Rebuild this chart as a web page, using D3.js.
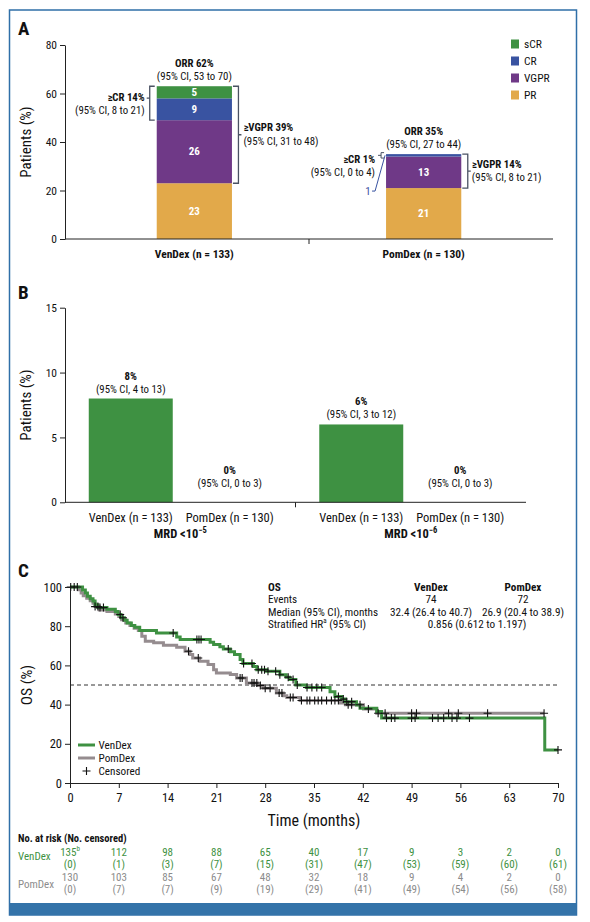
<!DOCTYPE html>
<html><head><meta charset="utf-8">
<script src="https://cdn.jsdelivr.net/npm/d3@7"></script>
<style>body{margin:0;background:#fff}</style>
</head><body>
<svg id="c" width="590" height="922"></svg>
<script>
// ---------- DATA ----------
const respCategories = ["VenDex (n = 133)", "PomDex (n = 130)"];
const respKeys = ["PR", "VGPR", "CR", "sCR"];
const respPR = [23, 21];
const respVGPR = [26, 13];
const respCR = [9, 1];
const respSCR = [5, 0];
const respTicks = [0, 20, 40, 60, 80];
const orrLabels = ["ORR 62%", "ORR 35%"];
const orrCI = ["(95% CI, 53 to 70)", "(95% CI, 27 to 44)"];
const crLabels = ["≥CR 14%", "≥CR 1%"];
const crCI = ["(95% CI, 8 to 21)", "(95% CI, 0 to 4)"];
const vgprLabels = ["≥VGPR 39%", "≥VGPR 14%"];
const vgprCI = ["(95% CI, 31 to 48)", "(95% CI, 8 to 21)"];

const mrdGroupExp = ["−5", "−6"];
const mrdArms = ["VenDex (n = 133)", "PomDex (n = 130)"];
const mrdVenDex = [8, 6];
const mrdPomDex = [0, 0];
const mrdVenDexCI = ["(95% CI, 4 to 13)", "(95% CI, 3 to 12)"];
const mrdPomDexCI = ["(95% CI, 0 to 3)", "(95% CI, 0 to 3)"];
const mrdTicks = [0, 5, 10, 15];

const vendexTimes = [0, 1.8, 2.2, 2.5, 2.9, 3.3, 3.6, 4.0, 5.3, 6.5, 6.9, 7.3, 7.8, 8.2, 8.8, 9.3, 10.0, 12.4, 15.3, 15.8, 20.1, 20.6, 21.5, 22.0, 23.0, 23.6, 24.4, 24.8, 26.3, 26.8, 28.2, 30.1, 31.0, 31.5, 32.4, 33.9, 37.3, 38.0, 39.0, 39.5, 41.1, 41.6, 44.0, 44.7, 68.1];
const vendexSurv  = [100, 98.5, 97, 95.3, 94, 92.8, 91, 89.5, 88.7, 87.5, 86, 84.3, 83, 81.6, 80.3, 79.5, 77.8, 76.5, 74.5, 73.2, 71.8, 70.6, 69.5, 68.4, 67, 65.5, 63, 61, 59.5, 57.8, 57, 55.2, 54, 52.8, 50, 48.7, 46.6, 44.1, 42.8, 41.5, 39.8, 38.1, 36.5, 33.1, 16.9];
const vendexEnd = 70;
const vendexCensor = [0.1, 0.6, 4.3, 4.8, 7.2, 7.6, 14.8, 18.2, 18.5, 18.8, 22.7, 24.9, 26.1, 27.0, 27.5, 27.9, 28.4, 29.5, 30.1, 31.3, 32.0, 32.6, 34.0, 34.7, 35.4, 36.1, 38.5, 39.2, 39.7, 40.4, 45.4, 46.1, 46.6, 49.0, 49.5, 52.0, 52.8, 53.6, 54.8, 55.5, 57.3, 70];

const pomdexTimes = [0, 1.2, 1.6, 1.9, 2.4, 2.9, 3.3, 3.6, 4.2, 5.3, 6.5, 7.0, 7.4, 8.0, 8.6, 9.2, 9.8, 10.3, 10.8, 12.0, 13.4, 15.3, 16.5, 17.2, 17.6, 18.6, 19.8, 20.6, 21.0, 23.0, 23.9, 25.3, 26.9, 27.7, 29.6, 30.6, 31.1, 33.0, 38.8, 39.5, 42.1, 44.0];
const pomdexSurv  = [100, 98.6, 97, 95.5, 94.3, 93, 91.7, 90, 88.3, 87.5, 86.2, 85, 83.3, 81.6, 80.3, 79, 77.8, 74.9, 72.3, 71.5, 70.3, 69.2, 67.2, 65.5, 63.8, 62.1, 60.4, 57.8, 56.1, 55.3, 53.6, 51, 49.8, 48.4, 45.9, 44.5, 43.6, 42.1, 40.8, 39.9, 37.8, 35.6];
const pomdexEnd = 68;
const pomdexCensor = [1.05, 3.6, 4.0, 17.0, 18.4, 24.4, 24.7, 26.1, 26.4, 26.8, 27.3, 28.0, 28.7, 30.0, 30.4, 31.6, 32.0, 33.2, 34.0, 34.4, 35.1, 35.6, 36.1, 36.8, 37.5, 38.0, 38.5, 39.9, 40.4, 41.6, 42.8, 44.2, 45.2, 49.0, 49.7, 54.3, 55.7, 59.9, 68.0];

const osTicksX = [0, 7, 14, 21, 28, 35, 42, 49, 56, 63, 70];
const osTicksY = [0, 20, 40, 60, 80, 100];
const vendexRisk = [135, 112, 98, 88, 65, 40, 17, 9, 3, 2, 0];
const vendexRiskCens = [0, 1, 3, 7, 15, 31, 47, 53, 59, 60, 61];
const pomdexRisk = [130, 103, 85, 67, 48, 32, 18, 9, 4, 2, 0];
const pomdexRiskCens = [0, 7, 7, 9, 19, 29, 41, 49, 54, 56, 58];

// ---------- STYLE ----------
const FONT = "'Liberation Sans Narrow','Arial Narrow','Roboto Condensed','DejaVu Sans Condensed',sans-serif";
const GREEN = "#3e9142", BLUE = "#3953a1", PURPLE = "#6f3987", GOLD = "#e2a94a";
const GRAYLINE = "#958c8f", BRACKET = "#4a5263", FRAME = "#2f6fa8", GRAYTXT = "#8c8c8c";
const colors = {PR: GOLD, VGPR: PURPLE, CR: BLUE, sCR: GREEN};
const ANN = 10.8;

const svg = d3.select("#c").style("font-family", FONT);

// frame
svg.append("rect").attr("x", 9.5).attr("y", 10).attr("width", 567).attr("height", 905)
  .attr("fill", "none").attr("stroke", FRAME).attr("stroke-width", 1.5);
svg.append("rect").attr("x", 9.5).attr("y", 903).attr("width", 567).attr("height", 12).attr("fill", "#3473a9");

function txt(g, x, y, s, o = {}) {
  return g.append("text").attr("x", x).attr("y", y).text(s)
    .attr("font-size", o.size || ANN).attr("font-weight", o.bold ? "bold" : "normal")
    .attr("text-anchor", o.anchor || "start").attr("fill", o.fill || "#111")
    .attr("dominant-baseline", "central");
}
function styleAxis(g, size) {
  g.selectAll("path,line").attr("stroke", "#222").attr("stroke-width", 1);
  g.selectAll("text").attr("font-size", size).attr("fill", "#111").attr("font-family", FONT);
}

// ---------- PANEL A ----------
const gA = svg.append("g");
txt(gA, 18, 28, "A", {size: 19, bold: true});
const yA = d3.scaleLinear().domain([0, 80]).range([239, 45]);
const xA = d3.scaleBand().domain(respCategories).range([65, 553]).paddingInner(0.672).paddingOuter(0.40);
const rowsA = respCategories.map((c, i) => ({cat: c, PR: respPR[i], VGPR: respVGPR[i], CR: respCR[i], sCR: respSCR[i]}));
const stackA = d3.stack().keys(respKeys)(rowsA);
stackA.forEach(layer => {
  layer.forEach(d => {
    const v = d[1] - d[0];
    if (v <= 0) return;
    gA.append("rect").attr("x", xA(d.data.cat)).attr("width", xA.bandwidth())
      .attr("y", yA(d[1])).attr("height", yA(d[0]) - yA(d[1])).attr("fill", colors[layer.key]);
    if (v >= 3) txt(gA, xA(d.data.cat) + xA.bandwidth() / 2, (yA(d[0]) + yA(d[1])) / 2, v, {bold: true, fill: "#fff", anchor: "middle", size: 11});
  });
});
const axA = gA.append("g").attr("transform", "translate(65,0)").call(d3.axisLeft(yA).tickValues(respTicks).tickSize(5).tickSizeOuter(0));
styleAxis(axA, 11.5);
gA.append("line").attr("x1", 65).attr("x2", 553).attr("y1", yA(0)).attr("y2", yA(0)).attr("stroke", "#222");
const sepA = (xA(respCategories[0]) + xA.bandwidth() + xA(respCategories[1])) / 2;
gA.append("line").attr("x1", sepA).attr("x2", sepA).attr("y1", yA(0)).attr("y2", yA(0) + 5).attr("stroke", "#222");
respCategories.forEach(c => txt(gA, xA(c) + xA.bandwidth() / 2, 254, c, {bold: true, anchor: "middle", size: 11.5}));
gA.append("text").attr("transform", `translate(31,${yA(40)}) rotate(-90)`).attr("text-anchor", "middle")
  .attr("font-size", 15).attr("fill", "#111").text("Patients (%)");

// annotations
respCategories.forEach((c, i) => {
  const cx = xA(c) + xA.bandwidth() / 2, x0 = xA(c), x1 = xA(c) + xA.bandwidth();
  const tot = respPR[i] + respVGPR[i] + respCR[i] + respSCR[i];
  txt(gA, cx, yA(tot) - 23, orrLabels[i], {bold: true, anchor: "middle"});
  txt(gA, cx, yA(tot) - 10, orrCI[i], {anchor: "middle"});
  const vTop = yA(tot), vBot = yA(respPR[i]), vMid = (vTop + vBot) / 2, bx = x1 + 6.5;
  gA.append("path").attr("d", `M${x1 + 1},${vTop}H${bx}V${vBot}H${x1 + 1}M${bx},${vMid}H${bx + 3}`)
    .attr("fill", "none").attr("stroke", BRACKET).attr("stroke-width", 1.3);
  const cTop = yA(tot), cBot = yA(respPR[i] + respVGPR[i]);
  if (i === 0) {
    const cMid = (cTop + cBot) / 2, lx = x0 - 7;
    gA.append("path").attr("d", `M${x0 - 2},${cTop}H${lx}V${cBot}H${x0 - 2}M${lx},${cMid - 5}H${lx - 3}`)
      .attr("fill", "none").attr("stroke", BRACKET).attr("stroke-width", 1.3);
    txt(gA, lx - 5, cMid - 6, crLabels[i], {bold: true, anchor: "end"});
    txt(gA, lx - 5, cMid + 7, crCI[i], {anchor: "end"});
    txt(gA, bx + 5, vMid - 7, vgprLabels[i], {bold: true});
    txt(gA, bx + 5, vMid + 6.5, vgprCI[i]);
  } else {
    const cMid = (cTop + cBot) / 2;
    gA.append("path").attr("d", `M${x0 - 2},${cTop - 1.5}H${x0 - 5}V${cBot + 1.5}H${x0 - 2}M${x0 - 5},${cMid}H${x0 - 8}`)
      .attr("fill", "none").attr("stroke", BRACKET).attr("stroke-width", 1);
    txt(gA, x0 - 11, cMid + 4, crLabels[i], {bold: true, anchor: "end"});
    txt(gA, x0 - 11, cMid + 17, crCI[i], {anchor: "end"});
    txt(gA, bx + 4, vMid - 7, vgprLabels[i], {bold: true});
    txt(gA, bx + 4, vMid + 6, vgprCI[i]);
    const crY = yA(respPR[i] + respVGPR[i] + respCR[i] / 2);
    txt(gA, x0 - 18, yA(respPR[i]) + 3, respCR[i], {fill: BLUE, anchor: "middle", size: 11});
    gA.append("path").attr("d", `M${x0 - 14},${yA(respPR[i]) + 3}H${x0 - 11}L${x0 - 1},${crY}`)
      .attr("fill", "none").attr("stroke", BLUE).attr("stroke-width", 1);
  }
});
// legend A
[...respKeys].reverse().forEach((k, i) => {
  const y = 44 + i * 17;
  gA.append("rect").attr("x", 511).attr("y", y - 4.5).attr("width", 8).attr("height", 9).attr("fill", colors[k]);
  txt(gA, 524, y, k, {size: 11.5});
});

// ---------- PANEL B ----------
const gB = svg.append("g");
txt(gB, 18, 292, "B", {size: 19, bold: true});
const yB = d3.scaleLinear().domain([0, 15]).range([502.3, 307.7]);
const x0B = d3.scaleBand().domain(mrdGroupExp).range([65, 526]).padding(0);
const x1B = d3.scaleBand().domain(mrdArms).range([0, x0B.bandwidth()]).paddingInner(0.1515).paddingOuter(0.24);
const armVals = [mrdVenDex, mrdPomDex], armCI = [mrdVenDexCI, mrdPomDexCI];
mrdGroupExp.forEach((g, gi) => {
  mrdArms.forEach((a, ai) => {
    const v = armVals[ai][gi];
    const x = x0B(g) + x1B(a), cx = x + x1B.bandwidth() / 2;
    if (v > 0) gB.append("rect").attr("x", x).attr("width", x1B.bandwidth()).attr("y", yB(v)).attr("height", yB(0) - yB(v)).attr("fill", GREEN);
    const top = v > 0 ? yB(v) : yB(0) - 9;
    txt(gB, cx, top - 22.5, v + "%", {bold: true, anchor: "middle"});
    txt(gB, cx, top - 9.5, armCI[ai][gi], {anchor: "middle"});
    txt(gB, cx, 517.5, a, {anchor: "middle", size: 12.5});
  });
  const t = gB.append("text").attr("x", x0B(g) + x0B.bandwidth() / 2).attr("y", 538).attr("text-anchor", "middle")
    .attr("font-size", 12.5).attr("font-weight", "bold").attr("fill", "#111");
  t.append("tspan").text("MRD <10");
  t.append("tspan").attr("dy", -5).attr("font-size", 8.5).text(g);
});
const axB = gB.append("g").attr("transform", "translate(65,0)").call(d3.axisLeft(yB).tickValues(mrdTicks).tickSize(5).tickSizeOuter(0));
styleAxis(axB, 11.5);
gB.append("line").attr("x1", 65).attr("x2", 526).attr("y1", yB(0)).attr("y2", yB(0)).attr("stroke", "#222");
const sepB = x0B(mrdGroupExp[1]);
gB.append("line").attr("x1", sepB).attr("x2", sepB).attr("y1", yB(0)).attr("y2", yB(0) + 5).attr("stroke", "#222");
gB.append("text").attr("transform", `translate(31,${yB(7.5)}) rotate(-90)`).attr("text-anchor", "middle")
  .attr("font-size", 15).attr("fill", "#111").text("Patients (%)");

// ---------- PANEL C ----------
const gC = svg.append("g");
txt(gC, 18, 570, "C", {size: 19, bold: true});
const xC = d3.scaleLinear().domain([0, 70]).range([70, 558]);
const yC = d3.scaleLinear().domain([0, 100]).range([783, 587]);
gC.append("line").attr("x1", xC(0)).attr("x2", xC(70)).attr("y1", yC(50)).attr("y2", yC(50))
  .attr("stroke", "#333").attr("stroke-dasharray", "4,3").attr("stroke-width", 1);
function kmPath(times, surv, end) {
  let d = `M${xC(times[0])},${yC(surv[0])}`;
  for (let i = 1; i < times.length; i++) d += `H${xC(times[i])}V${yC(surv[i])}`;
  return d + `H${xC(end)}`;
}
function survAt(times, surv, t) {
  let s = surv[0];
  for (let i = 0; i < times.length; i++) if (times[i] <= t) s = surv[i];
  return s;
}
gC.append("path").attr("d", kmPath(pomdexTimes, pomdexSurv, pomdexEnd)).attr("fill", "none").attr("stroke", GRAYLINE).attr("stroke-width", 3);
gC.append("path").attr("d", kmPath(vendexTimes, vendexSurv, vendexEnd)).attr("fill", "none").attr("stroke", GREEN).attr("stroke-width", 3);
function plus(g, x, y) {
  g.append("path").attr("d", `M${x - 4},${y}H${x + 4}M${x},${y - 4}V${y + 4}`).attr("stroke", "#111").attr("stroke-width", 1.1);
}
pomdexCensor.forEach(t => plus(gC, xC(t), yC(survAt(pomdexTimes, pomdexSurv, t))));
vendexCensor.forEach(t => plus(gC, xC(t), yC(survAt(vendexTimes, vendexSurv, t))));

const axCx = gC.append("g").attr("transform", `translate(0,${yC(0)})`).call(d3.axisBottom(xC).tickValues(osTicksX).tickSize(5).tickSizeOuter(0));
styleAxis(axCx, 12.5);
axCx.selectAll("text").attr("dy", "0.9em");
const axCy = gC.append("g").attr("transform", `translate(${xC(0)},0)`).call(d3.axisLeft(yC).tickValues(osTicksY).tickSize(5).tickSizeOuter(0));
styleAxis(axCy, 12.5);
gC.append("text").attr("transform", `translate(32,${yC(50)}) rotate(-90)`).attr("text-anchor", "middle")
  .attr("font-size", 15.5).attr("fill", "#111").text("OS (%)");
txt(gC, xC(35), 820, "Time (months)", {anchor: "middle", size: 16});

// OS summary table
const TS = 11.2;
txt(gC, 268, 587, "OS", {bold: true, size: TS});
txt(gC, 268, 599.5, "Events", {size: TS});
txt(gC, 268, 612, "Median (95% CI), months", {size: TS});
const hr = txt(gC, 268, 624, "Stratified HR", {size: TS});
hr.append("tspan").attr("dy", -3).attr("font-size", 7).text("a");
hr.append("tspan").attr("dy", 3).text(" (95% CI)");
txt(gC, 431, 587, "VenDex", {bold: true, anchor: "middle", size: TS});
txt(gC, 523, 587, "PomDex", {bold: true, anchor: "middle", size: TS});
txt(gC, 431, 599.5, "74", {anchor: "middle", size: TS});
txt(gC, 523, 599.5, "72", {anchor: "middle", size: TS});
txt(gC, 431, 612, "32.4 (26.4 to 40.7)", {anchor: "middle", size: TS});
txt(gC, 523, 612, "26.9 (20.4 to 38.9)", {anchor: "middle", size: TS});
txt(gC, 477, 624, "0.856 (0.612 to 1.197)", {anchor: "middle", size: TS});

// legend C
gC.append("line").attr("x1", 78).attr("x2", 95).attr("y1", 745).attr("y2", 745).attr("stroke", GREEN).attr("stroke-width", 3);
gC.append("line").attr("x1", 78).attr("x2", 95).attr("y1", 758).attr("y2", 758).attr("stroke", GRAYLINE).attr("stroke-width", 3);
plus(gC, 86.5, 771);
txt(gC, 98.5, 745, "VenDex", {size: 11.2});
txt(gC, 98.5, 758, "PomDex", {size: 11.2});
txt(gC, 98.5, 771, "Censored", {size: 11.2});

// at-risk table
const RS = 11;
txt(gC, 18, 838, "No. at risk (No. censored)", {bold: true, size: 10.5});
txt(gC, 18, 856, "VenDex", {fill: GREEN, size: RS});
txt(gC, 18, 884, "PomDex", {fill: GRAYTXT, size: RS});
osTicksX.forEach((t, i) => {
  const n = txt(gC, xC(t), 852, vendexRisk[i], {fill: GREEN, anchor: "middle", size: RS});
  if (i === 0) n.append("tspan").attr("dy", -3).attr("font-size", 7).text("b");
  txt(gC, xC(t), 864, "(" + vendexRiskCens[i] + ")", {fill: GREEN, anchor: "middle", size: RS});
  txt(gC, xC(t), 877.5, pomdexRisk[i], {fill: GRAYTXT, anchor: "middle", size: RS});
  txt(gC, xC(t), 889, "(" + pomdexRiskCens[i] + ")", {fill: GRAYTXT, anchor: "middle", size: RS});
});
</script>
</body></html>
